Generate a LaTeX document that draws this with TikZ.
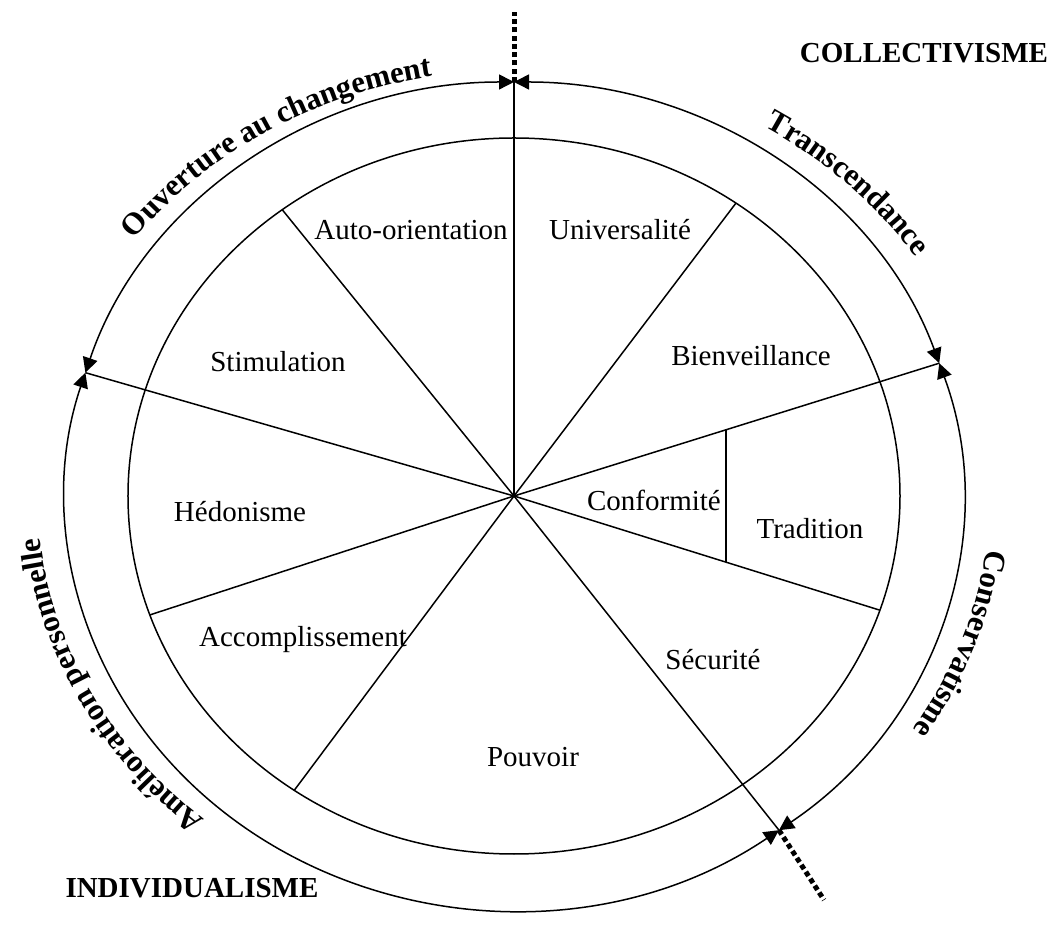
\documentclass[tikz,border=0pt]{standalone}
\usepackage{fontspec}
\setmainfont{Liberation Serif}
\usetikzlibrary{arrows.meta,decorations.text}
\tikzset{
  thinline/.style={line width=0.6pt},
  bothtips/.style={thinline,{Triangle[length=6pt,width=6pt]}-{Triangle[length=6pt,width=6pt]}},
  dotline/.style={line width=2pt,dash pattern=on 2pt off 1.3pt},
  value/.style={inner sep=0pt,font=\fontsize{11.6}{14}\selectfont},
  pole/.style={inner sep=0pt,font=\fontsize{11.6}{14}\selectfont\bfseries},
}
\newcommand{\curvefont}{\fontsize{12.4}{15}\selectfont\bfseries}
\begin{document}
\begin{tikzpicture}[x=0.4pt,y=0.4pt]
\useasboundingbox (-514,-435) rectangle (538,496);%

% Marking center and points on the outer ring
\coordinate (C) at (0,0);%
\coordinate (Top) at (90:449 and 414);%
\coordinate (Rgt) at (18.71:449 and 414);%
\coordinate (Bot) at (-53.83:449 and 414);%
\coordinate (Lft) at (162.67:449 and 414);%
\coordinate (TopEnd) at (0,484);%
\coordinate (BotEnd) at (310,-404);%

% Marking points on the inner ring
\coordinate (AutoStim) at (126.9:386 and 358);%
\coordinate (UnivBien) at (54.9:386 and 358);%
\coordinate (HedoAcc) at (199.4:386 and 358);%
\coordinate (AccPouv) at (235.3:386 and 358);%
\coordinate (TradSec) at (-18.6:386 and 358);%
\coordinate (SepTop) at (212,66.2);%
\coordinate (SepBot) at (212,-66.2);%

% Drawing inner ring
\draw [thinline] (C) ellipse [x radius=386, y radius=358];%

% Drawing outer ring as four double arrows
\draw [bothtips] (Lft) arc [start angle=162.67, end angle=90, x radius=449, y radius=414];%
\draw [bothtips] (Top) arc [start angle=90, end angle=18.71, x radius=449, y radius=414];%
\draw [bothtips] (Rgt) arc [start angle=18.71, end angle=-53.83, x radius=449, y radius=414];%
\draw [bothtips] (Bot) arc [start angle=-53.83, end angle=-197.33, x radius=449, y radius=414];%

% Drawing long segments
\draw [thinline] (C) -- (Top);%
\draw [thinline] (C) -- (Rgt);%
\draw [thinline] (C) -- (Bot);%
\draw [thinline] (C) -- (Lft);%

% Drawing short segments
\draw [thinline] (C) -- (AutoStim);%
\draw [thinline] (C) -- (UnivBien);%
\draw [thinline] (C) -- (HedoAcc);%
\draw [thinline] (C) -- (AccPouv);%
\draw [thinline] (C) -- (TradSec);%
\draw [thinline] (SepTop) -- (SepBot);%

% Drawing dotted axis
\draw [dotline] (Top) -- (TopEnd);%
\draw [dotline] (Bot) -- (BotEnd);%

% Marking values
\node [value] (auto) at (-103,266) {Auto-orientation};%
\node [value] (univ) at (106,266) {Universalité};%
\node [value] (stim) at (-236,134) {Stimulation};%
\node [value] (bien) at (237,140) {Bienveillance};%
\node [value] (hedo) at (-274,-16) {Hédonisme};%
\node [value] (conf) at (140,-4) {Conformité};%
\node [value] (trad) at (296,-33) {Tradition};%
\node [value] (acc) at (-211,-144) {Accomplissement};%
\node [value] (secu) at (199,-164) {Sécurité};%
\node [value] (pouv) at (19,-261) {Pouvoir};%

% Marking poles
\node [pole] (coll) at (410,443) {COLLECTIVISME};%
\node [pole] (indiv) at (-322,-392) {INDIVIDUALISME};%

% Marking curved labels
\path [decorate, decoration={text along path, text align=center, text={|\curvefont|Ouverture au changement}}] (151.7:476 and 426) arc [start angle=151.7, end angle=91.7, x radius=476, y radius=426];%
\path [decorate, decoration={text along path, text align=center, text={|\curvefont|Transcendance}}] (75.5:482 and 432) arc [start angle=75.5, end angle=15.5, x radius=482, y radius=432];%
\path [decorate, decoration={text along path, text align=center, text={|\curvefont|Conservatisme}}] (10.2:476 and 426) arc [start angle=10.2, end angle=-49.8, x radius=476, y radius=426];%
\path [decorate, decoration={text along path, text align=center, text={|\curvefont|Amélioration personnelle}}] (237.2:476 and 426) arc [start angle=237.2, end angle=177.2, x radius=476, y radius=426];%
\end{tikzpicture}
\end{document}
